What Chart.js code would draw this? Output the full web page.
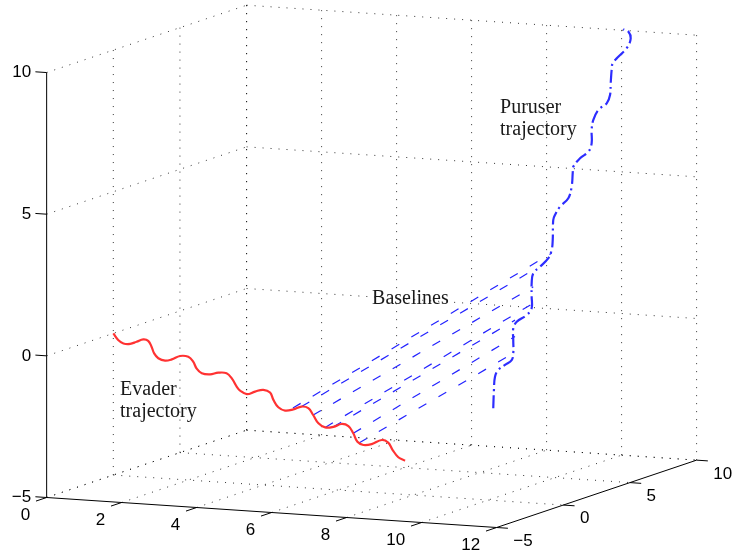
<!DOCTYPE html>
<html>
<head>
<meta charset="utf-8">
<script src="https://cdn.jsdelivr.net/npm/chart.js@4.4.1/dist/chart.umd.min.js"></script>
<style>
  html, body { margin: 0; padding: 0; background: #fff; }
  #wrap { width: 737px; height: 559px; }
</style>
</head>
<body>
<div id="wrap"><canvas id="chart"></canvas></div>
<script>
// tick values of the three axes
const xTicks = [0, 2, 4, 6, 8, 10, 12];
const yTicks = [-5, 0, 5, 10];
const zTicks = [-5, 0, 5, 10];

// evader trajectory, lies in the plane y = 0
const evaderY = 0;
const evaderX = [0, 0.13, 0.27, 0.45, 0.62, 0.8, 0.93, 1.02, 1.09, 1.2, 1.38, 1.56, 1.78, 2.0, 2.13, 2.22,
  2.36, 2.58, 2.8, 3.02, 3.16, 3.29, 3.38, 3.56, 3.78, 4.0, 4.18, 4.27, 4.4, 4.58, 4.8, 5.02,
  5.2, 5.33, 5.47, 5.65, 5.87, 6.09, 6.27, 6.4, 6.51, 6.67, 6.89, 7.16, 7.33, 7.45, 7.6, 7.78];
const evaderZ = [0, -0.22, -0.33, -0.33, -0.24, -0.14, -0.18, -0.38, -0.61, -0.77, -0.84, -0.78, -0.64, -0.65, -0.81, -1.04,
  -1.2, -1.22, -1.14, -1.14, -1.31, -1.59, -1.72, -1.83, -1.72, -1.64, -1.72, -1.97, -2.22, -2.32, -2.26, -2.14,
  -2.18, -2.41, -2.69, -2.82, -2.78, -2.66, -2.72, -2.96, -3.25, -3.35, -3.3, -3.13, -3.21, -3.46, -3.7, -3.81];

// pursuer trajectory, lies in the plane x = 10.2
const pursuerX = 10.2;
const pursuerY = [-0.19, -0.14, -0.06, 0.19, 0.69, 1.19, 1.31, 1.31, 1.31, 1.57, 2.32, 2.69, 2.69, 2.69,
  2.81, 3.32, 3.94, 4.19, 4.27, 4.31, 4.44, 4.82, 5.44, 5.69, 5.77, 5.81, 6.32, 6.94,
  7.19, 7.19, 7.31, 7.69, 8.32, 8.57, 8.62, 8.69, 8.77, 9.19, 9.82, 10.12, 9.94, 9.56];
const pursuerZ = [-1.71, -1.08, -0.62, -0.42, -0.32, -0.23, -0.01, 0.46, 0.87, 1.06, 1.18, 1.36, 1.77, 2.24,
  2.58, 2.73, 2.93, 3.18, 3.52, 4.22, 4.38, 4.61, 4.81, 5.18, 5.64, 5.86, 6.08, 6.21,
  6.47, 6.94, 7.27, 7.57, 7.70, 7.96, 8.36, 8.82, 9.04, 9.21, 9.41, 9.71, 9.98, 10.12];

// baselines: evader end (x, z) -> pursuer end (y, z)
const baseEvX = [4.79, 5.02, 5.33, 5.65, 5.87, 6.4, 6.55];
const baseEvZ = [-2.21, -2.14, -2.41, -2.82, -2.78, -2.96, -3.29];
const basePuY = [4.19, 2.81, 2.81, 2.81, 1.44, 1.44, 1.31];
const basePuZ = [3.07, 2.69, 2.10, 1.52, 1.14, 0.56, -0.01];

// text notes and where they sit in 3-D
const notes = [
  { lines: ["Evader", "trajectory"], at: [0.18, 0, -2.16] },
  { lines: ["Puruser", "trajectory"], at: [10.2, 0.32, 8.63] },
  { lines: ["Baselines"], at: [6.9, 0, 1.65] }
];

// camera: orthographic view fitted to the figure
const view = { o: [113.3, 333.4], ex: [37.5, 2.5], ey: [13.33, -4.49], ez: [0, -28.33] };
function proj(x, y, z) {
  return {
    x: view.o[0] + view.ex[0] * x + view.ey[0] * y + view.ez[0] * z,
    y: view.o[1] + view.ex[1] * x + view.ey[1] * y + view.ez[1] * z
  };
}

function seg(a, b) { return [proj(...a), proj(...b)]; }

const datasets = [];
function add(data, style) {
  datasets.push(Object.assign({ data: data, showLine: true, pointRadius: 0, fill: false, clip: false,
    tension: 0, borderCapStyle: 'butt' }, style));
}

// dotted grid on floor, back wall and left wall
const gridStyle = { borderColor: 'rgba(0,0,0,0.8)', borderWidth: 1, borderDash: [1, 7], order: 10 };
const grid = [];
xTicks.forEach(v => {
  if (v < 12) grid.push(seg([v, -5, -5], [v, 10, -5]));
  grid.push(seg([v, 10, -5], [v, 10, 10]));
});
yTicks.forEach(v => {
  if (v > -5) grid.push(seg([0, v, -5], [12, v, -5]));
  if (v > -5) grid.push(seg([0, v, -5], [0, v, 10]));
});
zTicks.forEach(v => {
  grid.push(seg([0, 10, v], [12, 10, v]));
  grid.push(seg([0, -5, v], [0, 10, v]));
});
grid.forEach(g => add(g, gridStyle));

// solid axes and ticks
const axisStyle = { borderColor: '#000', borderWidth: 1, order: 9 };
add(seg([0, -5, -5], [12, -5, -5]), axisStyle);
add(seg([12, -5, -5], [12, 10, -5]), axisStyle);
add(seg([0, -5, -5], [0, -5, 10]), axisStyle);
xTicks.forEach(v => add(seg([v, -5, -5], [v, -5.8, -5]), axisStyle));
yTicks.forEach(v => add(seg([12, v, -5], [12.3, v, -5]), axisStyle));
zTicks.forEach(v => add(seg([0, -5, v], [-0.3, -5, v]), axisStyle));

// baselines
baseEvX.forEach((x, i) => {
  add(seg([x, evaderY, baseEvZ[i]], [pursuerX, basePuY[i], basePuZ[i]]),
    { borderColor: 'rgb(35,35,255)', borderWidth: 1.2, borderDash: [9, 14], order: 3 });
});

// trajectories
add(evaderX.map((x, i) => proj(x, evaderY, evaderZ[i])),
  { borderColor: 'rgb(255,50,50)', borderWidth: 2.2, tension: 0.4, order: 1 });
add(pursuerY.map((y, i) => proj(pursuerX, y, pursuerZ[i])),
  { borderColor: 'rgb(45,45,255)', borderWidth: 2.2, tension: 0.4, borderDash: [13, 4, 2, 4], order: 1 });

const textPlugin = {
  id: 'axesText',
  afterDatasetsDraw(chart) {
    const ctx = chart.ctx, sx = chart.scales.x, sy = chart.scales.y;
    const px = p => [sx.getPixelForValue(p.x), sy.getPixelForValue(p.y)];
    const fmt = v => (v < 0 ? '\u2212' + Math.abs(v) : String(v));
    ctx.save();
    ctx.fillStyle = '#000';
    ctx.font = '17px "Liberation Sans", Arial, sans-serif';
    ctx.textBaseline = 'middle';
    ctx.textAlign = 'right';
    xTicks.forEach(v => {
      const [a, b] = px(proj(v, -5, -5));
      ctx.fillText(fmt(v), a - 16.5, b + 17.5);
    });
    zTicks.forEach(v => {
      const [a, b] = px(proj(0, -5, v));
      ctx.fillText(fmt(v), a - 15.5, b);
    });
    ctx.textAlign = 'left';
    yTicks.forEach(v => {
      const [a, b] = px(proj(12, v, -5));
      ctx.fillText(fmt(v), a + 16.6, b + 13.7);
    });
    ctx.font = '20px "Liberation Serif", "Times New Roman", serif';
    ctx.fillStyle = '#1a1a1a';
    ctx.textBaseline = 'alphabetic';
    notes.forEach(n => {
      const [a, b] = px(proj(...n.at));
      n.lines.forEach((t, i) => ctx.fillText(t, a, b + i * 22));
    });
    ctx.restore();
  }
};

new Chart(document.getElementById('chart'), {
  type: 'scatter',
  data: { datasets: datasets },
  options: {
    responsive: true,
    maintainAspectRatio: false,
    animation: false,
    layout: { padding: 0 },
    plugins: { legend: { display: false }, tooltip: { enabled: false } },
    scales: {
      x: { type: 'linear', min: 0, max: 737, display: false },
      y: { type: 'linear', min: 0, max: 559, reverse: true, display: false }
    }
  },
  plugins: [textPlugin]
});
</script>
</body>
</html>
